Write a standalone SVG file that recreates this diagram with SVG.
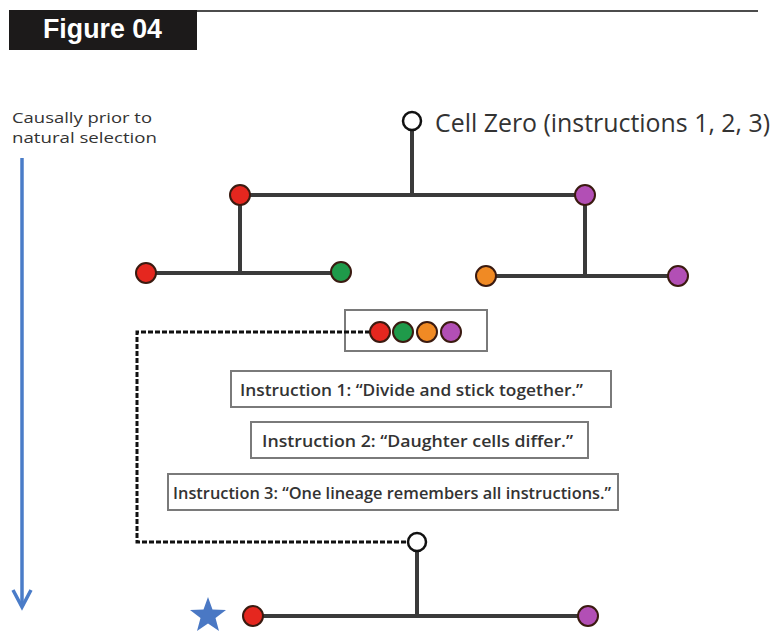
<svg xmlns="http://www.w3.org/2000/svg" width="777" height="640" viewBox="0 0 777 640">
<style>
.tree{stroke:#3a3a3a;stroke-width:4;fill:none}
.dash{stroke:#111;stroke-width:3;stroke-dasharray:5 2;fill:none}
.cell{stroke:#3a1a10;stroke-width:2}
.red{fill:#e5271f}.green{fill:#1f9a4a}.orange{fill:#f08a24}.purple{fill:#b24fb5}.white{fill:#fff;stroke:#111;stroke-width:2.5}
.box{fill:#fff;stroke:#7a7a7a;stroke-width:2}
.itxt{font-family:"Open Sans","Liberation Sans",sans-serif;font-size:15.5px;font-weight:600;fill:#333}
</style>
<rect x="0" y="0" width="777" height="640" fill="#fff"/>
<g id="header">
<line x1="196" y1="11" x2="758" y2="11" stroke="#111" stroke-width="1.5"/>
<rect x="9" y="10" width="188" height="40" fill="#1c1a1a"/>
<text x="43" y="38" font-family="Liberation Sans, Arial, sans-serif" font-size="27" font-weight="bold" fill="#fff" textLength="119" lengthAdjust="spacingAndGlyphs">Figure 04</text>
</g>
<g id="timeline">
<text x="12" y="123" font-family="Open Sans, Liberation Sans, sans-serif" font-size="14" fill="#333" textLength="140" lengthAdjust="spacingAndGlyphs">Causally prior to</text>
<text x="12" y="143" font-family="Open Sans, Liberation Sans, sans-serif" font-size="14" fill="#333" textLength="145" lengthAdjust="spacingAndGlyphs">natural selection</text>
<line x1="22" y1="158" x2="22" y2="606" stroke="#4a7cc8" stroke-width="3.5"/>
<polyline points="13,590 22,607 31,590" fill="none" stroke="#4a7cc8" stroke-width="3.5"/>
</g>
<g id="cluster-box">
<rect class="box" x="345" y="310" width="142" height="41"/>
</g>
<g id="connectors">
<line class="tree" x1="412" y1="128" x2="412" y2="196"/>
<line class="tree" x1="240" y1="195" x2="585" y2="195"/>
<line class="tree" x1="240" y1="195" x2="240" y2="273"/>
<line class="tree" x1="146" y1="273" x2="341" y2="273"/>
<line class="tree" x1="585" y1="195" x2="585" y2="276"/>
<line class="tree" x1="486" y1="276" x2="678" y2="276"/>
<polyline class="dash" points="370,332 137,332 137,542 408,542"/>
<line class="tree" x1="417" y1="551" x2="417" y2="616"/>
<line class="tree" x1="253" y1="616" x2="588" y2="616"/>
</g>
<g id="cell-zero">
<circle class="white" cx="412" cy="121" r="9"/>
<text x="435" y="132" font-family="Open Sans, Liberation Sans, sans-serif" font-size="25" fill="#333" textLength="335" lengthAdjust="spacingAndGlyphs">Cell Zero (instructions 1, 2, 3)</text>
</g>
<g id="gen1-red"><circle class="cell red" cx="240" cy="195" r="10"/></g>
<g id="gen1-purple"><circle class="cell purple" cx="585" cy="195" r="10"/></g>
<g id="gen2-red"><circle class="cell red" cx="146" cy="273" r="10"/></g>
<g id="gen2-green"><circle class="cell green" cx="341" cy="272" r="10"/></g>
<g id="gen2-orange"><circle class="cell orange" cx="486" cy="276" r="10"/></g>
<g id="gen2-purple"><circle class="cell purple" cx="678" cy="276" r="10"/></g>
<g id="cluster">
<circle class="cell red" cx="380" cy="332" r="10"/>
<circle class="cell green" cx="403" cy="332" r="10"/>
<circle class="cell orange" cx="427" cy="332" r="10"/>
<circle class="cell purple" cx="451" cy="332" r="10"/>
</g>
<g id="instruction1">
<rect class="box" x="231" y="371" width="380" height="36"/>
<text class="itxt" x="240" y="396" textLength="343" lengthAdjust="spacingAndGlyphs">Instruction 1: “Divide and stick together.”</text>
</g>
<g id="instruction2">
<rect class="box" x="251" y="422" width="337" height="36"/>
<text class="itxt" x="262" y="447" textLength="311" lengthAdjust="spacingAndGlyphs">Instruction 2: “Daughter cells differ.”</text>
</g>
<g id="instruction3">
<rect class="box" x="168" y="474" width="450" height="36"/>
<text class="itxt" x="173" y="499" textLength="438" lengthAdjust="spacingAndGlyphs">Instruction 3: “One lineage remembers all instructions.”</text>
</g>
<g id="restart-cell"><circle class="white" cx="417" cy="542" r="9"/></g>
<g id="final-red"><circle class="cell red" cx="253" cy="616" r="10"/></g>
<g id="final-purple"><circle class="cell purple" cx="588" cy="616" r="10"/></g>
<g id="star">
<polygon fill="#4a78c4" points="208,597 212.5,609.5 226,610 215.5,618 219,631 208,623.5 197,631 200.5,618 190,610 203.5,609.5"/>
</g>
</svg>
